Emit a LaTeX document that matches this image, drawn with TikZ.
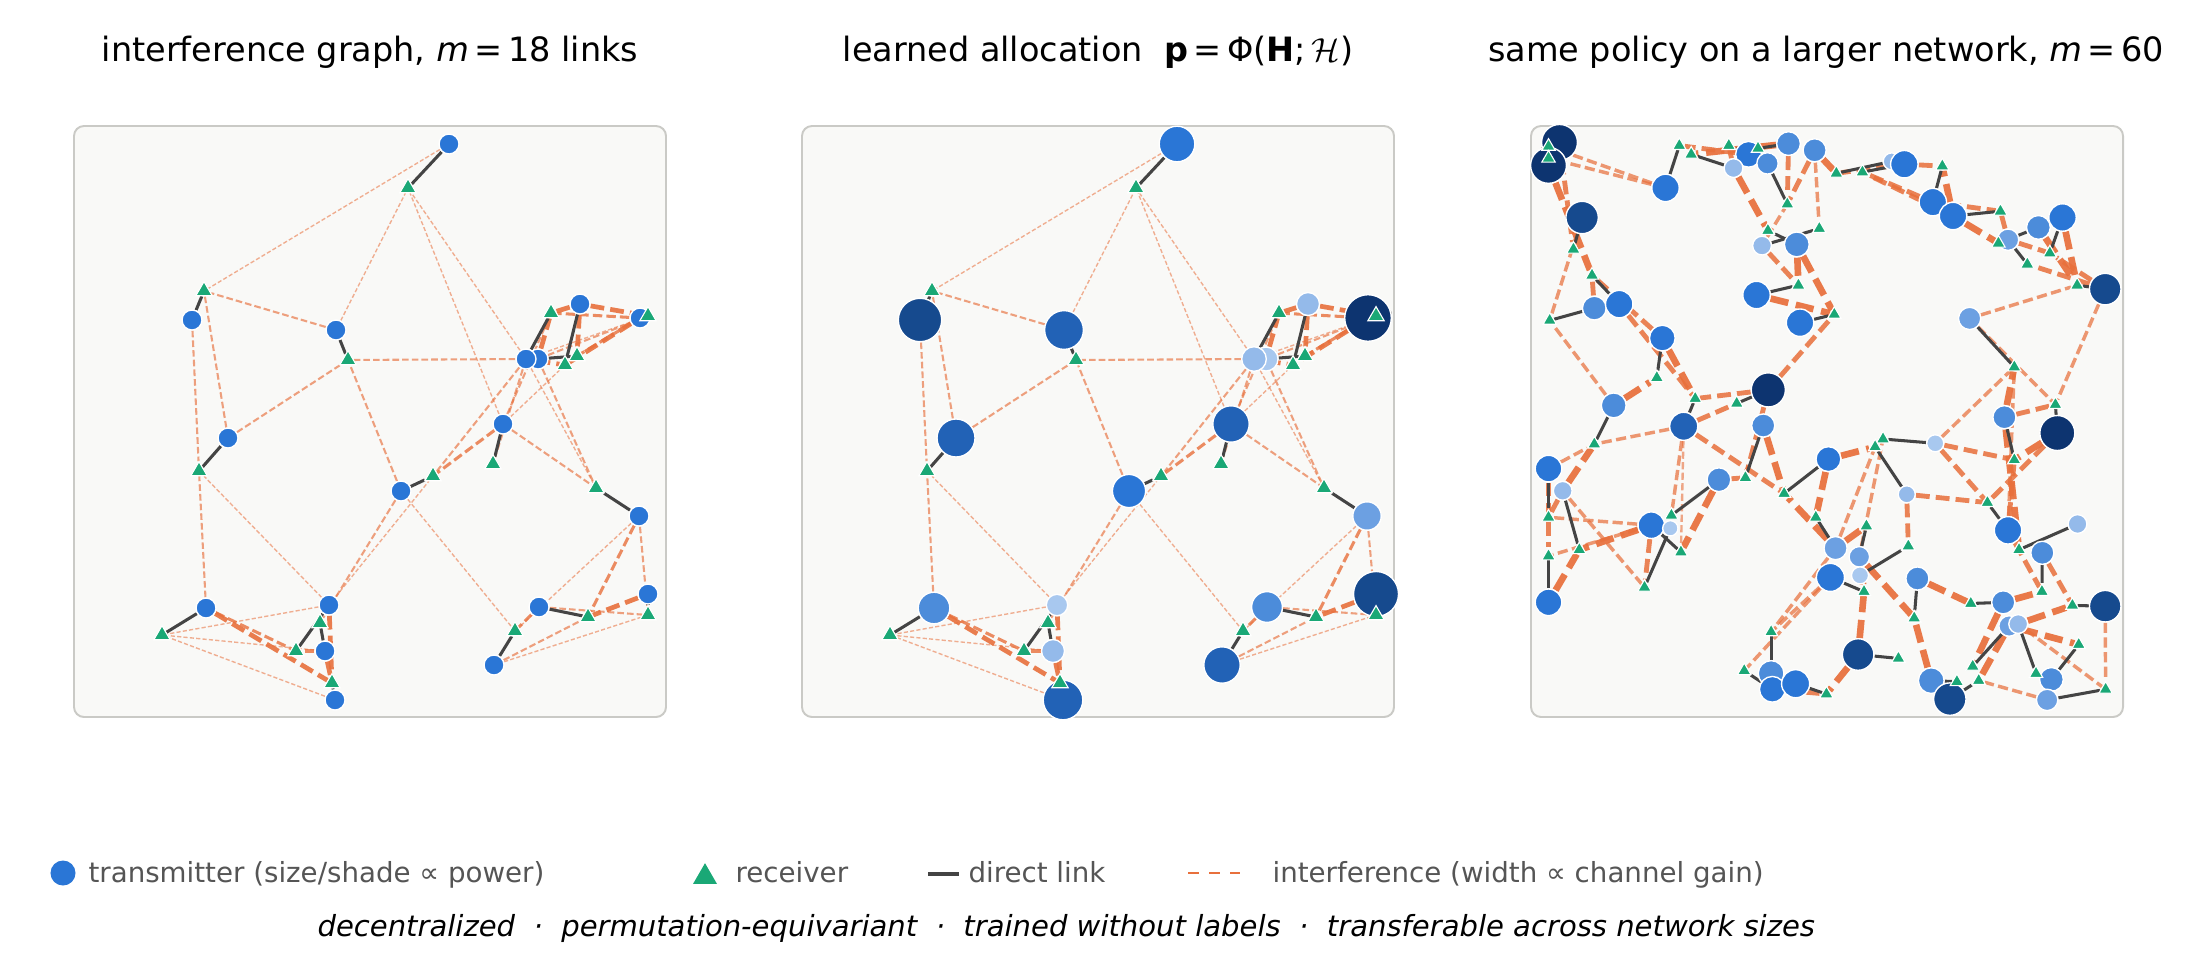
\documentclass[tikz,border=0pt]{standalone}
\usepackage{fontspec}
\setmainfont{DejaVu Sans}
\usetikzlibrary{shapes.geometric, positioning}

\definecolor{ifcol}{RGB}{232,112,60}
\definecolor{lkgray}{RGB}{68,68,68}
\definecolor{rxgreen}{RGB}{26,168,118}
\definecolor{panelbg}{RGB}{249,249,247}
\definecolor{panelrule}{RGB}{202,202,198}
\definecolor{legtext}{RGB}{85,85,85}
\definecolor{blu1}{RGB}{168,200,239}
\definecolor{blu2}{RGB}{148,186,234}
\definecolor{blu3}{RGB}{108,160,226}
\definecolor{blu4}{RGB}{76,140,218}
\definecolor{blu5}{RGB}{42,118,214}
\definecolor{blu6}{RGB}{34,98,182}
\definecolor{blu7}{RGB}{22,74,142}
\definecolor{blu8}{RGB}{13,52,112}

\pgfdeclarelayer{panel}
\pgfdeclarelayer{wires}
\pgfsetlayers{panel,wires,main}

\tikzset{
  tx/.style 2 args={circle, draw=white, line width=.5pt, inner sep=0pt,
    minimum size=#1*0.7227pt, fill=#2},
  rx/.style={regular polygon, regular polygon sides=3, draw=white,
    line width=.4pt, inner sep=0pt, fill=rxgreen, minimum size=#1},
  rx/.default=6.8pt,
  direct/.style={draw=lkgray, line width=1.1pt},
  panelbox/.style={draw=panelrule, fill=panelbg, line width=.7pt, rounded corners=3.6pt},
  iwa/.style={draw=ifcol, draw opacity=.55, line width=.5pt, dash pattern=on 1.5pt off .8pt},
  iwb/.style={draw=ifcol, draw opacity=.65, line width=.75pt, dash pattern=on 2.4pt off 1.1pt},
  iwc/.style={draw=ifcol, draw opacity=.8, line width=1.1pt, dash pattern=on 3.4pt off 1.5pt},
  iwd/.style={draw=ifcol, draw opacity=.9, line width=1.7pt, dash pattern=on 5pt off 2.2pt},
  ttl/.style={font=\fontsize{12.1}{14}\selectfont, anchor=base},
  lgd/.style={font=\fontsize{10}{12}\selectfont, text=legtext, anchor=base west, inner sep=0pt},
}

% the 18-link network (panels 1 and 2)
\newcommand\smalltx{1/375/18, 2/118/194, 3/262/204, 4/154/312, 5b/464/233, 5/452/233,
  6/506/178, 7/566/192, 8/429/298, 9/327/365, 10/565/390, 11/574/468, 12/465/481,
  13/420/539, 14/132/482, 15/255/479, 16/251/525, 17/261/574}
\newcommand\smallrx{1/334/62, 2/130/165, 3/274/234, 4/125/345, 5/477/187, 6/491/239,
  7/503/230, 8/574/190, 9/419/338, 10/359/350, 11/522/362, 12/574/489, 13/514/491,
  14/441/505, 15/88/509, 16/246/497, 17/222/525, 18/258/557}
\newcommand\smallpairs{t1/r1, t2/r2, t3/r3, t4/r4, t5/r5, t5b/r7, t6/r6, t7/r8, t8/r9,
  t9/r10, t10/r11, t11/r12, t12/r13, t13/r14, t14/r15, t15/r17, t16/r16, t17/r18}
\newcommand\smallif{t1/r2/iwa, t3/r1/iwa, t8/r1/iwa, t5/r1/iwa, t5/r11/iwa, t15/r4/iwa,
  t9/r14/iwa, t15/r10/iwa, t10/r14/iwa, t13/r12/iwa, t15/r15/iwa, t16/r15/iwa, t17/r15/iwa,
  t5/r8/iwa, t8/r6/iwa,
  t3/r2/iwb, t4/r2/iwb, t2/r4/iwb, t5/r3/iwb, t4/r3/iwb, t9/r3/iwb, t5/r10/iwb, t5/r9/iwb,
  t8/r11/iwb, t5b/r11/iwb, t14/r4/iwb, t9/r16/iwb, t10/r12/iwb, t13/r13/iwb, t12/r12/iwb,
  t5b/r8/iwb, t8/r5/iwb,
  t8/r10/iwc, t10/r13/iwc, t12/r14/iwc, t14/r17/iwc, t16/r17/iwc, t7/r5/iwc, t7/r7/iwc,
  t11/r13/iwd, t14/r18/iwd, t16/r18/iwd, t15/r18/iwd, t6/r5/iwd, t7/r6/iwd, t6/r8/iwd,
  t5/r6/iwd, t5b/r5/iwd, t6/r7/iwd}
\newcommand\smallwires[1]{%
  \begin{pgfonlayer}{wires}
    \foreach \s/\e/\w in \smallif \draw[\w] (#1-\s) -- (#1-\e);
    \foreach \s/\e in \smallpairs \draw[direct] (#1-\s) -- (#1-\e);
  \end{pgfonlayer}}

% the 60-link network (panel 3)
\newcommand\bigtx{1/28.5/16.4/16.6/8, 2/17.5/39.4/16.6/8, 3/51.1/91.5/15/7,
  4/134.5/61.9/12.7/5, 5/217.5/28.3/11.9/5, 6/202.5/42.1/8.7/2, 7/236.5/37.4/9.9/4,
  8/257.5/17.6/11/4, 9/283.6/24.3/10.7/4, 10/360.7/35.4/7.9/2, 11/373.3/38.2/12.7/5,
  12/401.8/76.1/12.7/5, 13/422/90/12.7/5, 14/477/113.7/9.9/3, 15/507.4/101.4/11/4,
  16/531.5/91.5/12.7/5, 17/574.2/163.1/14.6/7, 18/231/119.6/8.7/2, 19/265.8/118.4/11.5/4,
  20/225.5/169/12.7/5, 21/269/196.7/12.7/5, 22/63.3/182.1/11/4, 23/88.2/178.1/12.7/5,
  24/131.3/212.1/11.9/5, 25/438.6/192.4/10.3/3, 26/237.3/263.9/15.8/8, 27/82.7/279.4/11.5/4,
  28/152.7/300.3/13/6, 29/232.2/299.5/10.7/4, 30/473.4/291.2/10.7/4, 31/526.3/307/16.2/8,
  32/17.5/342.6/12.3/5, 33/31.7/364.8/8.7/2, 34/187.9/353.7/11/4, 35/297.4/333.1/11.5/5,
  36/404.2/317.3/7.9/1, 37/375.7/368.3/7.9/2, 38/120.3/399.2/12.3/5, 39/139.3/402.3/7.1/1,
  40/477/404.3/12.7/5, 41/546.5/398/8.7/2, 42/511.3/426.8/10.7/4, 43/304.5/422.1/10.7/3,
  44/328.3/430.8/9.5/3, 45/329/449.4/7.9/1, 46/299.4/451.4/13/5, 47/386.4/452.5/10.7/4,
  48/17.5/476.3/12.3/5, 49/574.2/480.2/14.6/7, 50/472.2/476.3/10.7/4, 51/478.1/500/9.5/3,
  52/487.2/498/8.7/2, 53/327.1/528.5/14.6/7, 54/240.1/547.5/11.9/4, 55/241.3/563.3/11.9/5,
  56/264.6/557.7/13/5, 57/400.2/554.6/11.9/4, 58/418.8/573.1/15/7, 59/520.4/553.4/11/4,
  60/516.1/573.9/9.9/3}
\newcommand\bigrx{1/17.5/20.4, 2/17.5/32.2, 3/42.4/123.2, 4/148.3/19.6, 5/197.8/19.6,
  6/160.2/28.3, 7/256.3/78.1, 8/227/22.4, 10/305.3/47.3, 11/331.4/46.1, 12/411.3/40.1,
  13/469.4/85.2, 14/496.3/138.2, 15/467.4/117.2, 16/518.8/127.1, 17/546.1/159.2,
  18/288.3/102.6, 19/236.9/104.6, 20/267.4/159.2, 21/303.3/188.4, 22/18.7/194.4,
  23/61/149.3, 24/125.8/251.7, 25/483.3/241, 26/205.7/277.4, 27/63.3/318.1,
  28/164.2/272.6, 29/214.4/351.7, 30/483.3/333.9, 31/524.4/278.6, 32/17.5/391.3,
  33/48.3/423.7, 34/140.4/389.3, 35/253.1/367.5, 36/352/313, 37/344.1/320.9,
  38/149.9/426.1, 39/113.5/461.3, 40/456.4/376.6, 41/488/423.7, 42/510.9/465.6,
  43/284.8/391.3, 44/335.4/400, 45/377.3/420.1, 46/333/465.6, 47/383.2/492.1,
  48/17.5/430, 49/541.4/479.4, 50/439.8/477.5, 51/441.7/540.3, 52/505/547.5,
  53/367.4/532.4, 54/240.1/505.9, 55/213.2/544.7, 56/295.4/568, 57/425.9/555.7,
  58/447.7/554.6, 59/547.7/518.6, 60/574.6/563.3}
\newcommand\bigif{t4/r1/iwb, t4/r2/iwb, t1/r3/iwc, t2/r23/iwd, t3/r22/iwb, t22/r23/iwc,
  t27/r22/iwb, t23/r28/iwc, t27/r24/iwd, t24/r28/iwd, t26/r28/iwc, t28/r26/iwc, t26/r29/iwc,
  t28/r27/iwb, t32/r27/iwb, t33/r27/iwd, t28/r34/iwb, t28/r38/iwa, t28/r35/iwc, t29/r35/iwd,
  t34/r38/iwd, t33/r32/iwc, t32/r48/iwc, t38/r33/iwd, t33/r39/iwb, t38/r32/iwb, t38/r48/iwb,
  t48/r33/iwd, t38/r39/iwc, t35/r43/iwd, t35/r37/iwd, t44/r36/iwb, t43/r37/iwb, t36/r25/iwb,
  t36/r30/iwc, t36/r40/iwc, t37/r40/iwc, t37/r45/iwc, t30/r25/iwd, t30/r31/iwc, t31/r30/iwd,
  t31/r40/iwc, t30/r41/iwd, t17/r31/iwb, t25/r17/iwb, t25/r31/iwb, t40/r25/iwb, t5/r4/iwc,
  t8/r6/iwd, t6/r5/iwc, t6/r19/iwd, t9/r7/iwc, t9/r18/iwb, t9/r10/iwd, t11/r10/iwc, t11/r12/iwc,
  t13/r11/iwc, t13/r12/iwd, t13/r15/iwd, t12/r13/iwc, t14/r13/iwc, t16/r17/iwd, t15/r17/iwd,
  t14/r16/iwc, t17/r16/iwc, t17/r14/iwc, t19/r20/iwd, t18/r20/iwc, t19/r21/iwd, t20/r21/iwd,
  t26/r21/iwc, t18/r7/iwb, t8/r7/iwc, t43/r44/iwd, t44/r46/iwd, t43/r54/iwb, t46/r54/iwb,
  t46/r55/iwb, t53/r46/iwd, t44/r47/iwd, t47/r50/iwd, t57/r47/iwd, t53/r56/iwd, t55/r56/iwc,
  t52/r49/iwd, t51/r59/iwd, t49/r60/iwb, t52/r60/iwb, t60/r58/iwb, t51/r58/iwd, t50/r51/iwd,
  t40/r42/iwc, t42/r49/iwc, t50/r42/iwd, t40/r30/iwc, t24/r23/iwc, t12/r11/iwc, t34/r29/iwc,
  t43/r35/iwd}

\begin{document}
\begin{tikzpicture}[x=0.0127cm, y=-0.0127cm]
\useasboundingbox (0,0) rectangle (2200,975);

% titles
\node[ttl] (ttl1) at (370,61) {interference graph, \textit{m}\,=\,18 links};
\node[ttl] (ttl2) at (1098,61) {learned allocation\hspace{.64em}\textbf{p}\,=\,Φ(\textbf{H};\,$\mathcal{H}$)};
\node[ttl] (ttl3) at (1826,61) {same policy on a larger network, \textit{m}\,=\,60};

% panel 1: the graph
\begin{scope}[shift={(74,126)}]
  \begin{pgfonlayer}{panel}
    \path[panelbox] (0,0) rectangle (592,591);
  \end{pgfonlayer}
  \foreach \n/\x/\y in \smalltx \node[tx={10}{blu5}] (a-t\n) at (\x,\y) {};
  \foreach \n/\x/\y in \smallrx \node[rx] (a-r\n) at (\x,\y) {};
  \smallwires{a}
\end{scope}

% panel 2: same graph, powers from the policy
\begin{scope}[shift={(802,126)}]
  \begin{pgfonlayer}{panel}
    \path[panelbox] (0,0) rectangle (592,591);
  \end{pgfonlayer}
  \foreach \n/\x/\y/\r/\c in {1/375/18/17.8/5, 2/118/194/21.7/7, 3/262/204/19.4/6,
      4/154/312/19/6, 5b/464/233/12/1, 5/452/233/12.3/2, 6/506/178/11.5/2,
      7/566/192/23.3/8, 8/429/298/18.2/6, 9/327/365/16.6/5, 10/565/390/14.2/3,
      11/574/468/22.5/7, 12/465/481/15.4/4, 13/420/539/18.2/6, 14/132/482/15.8/4,
      15/255/479/10.7/1, 16/251/525/11.5/2, 17/261/574/19.8/6}
    \node[tx={\r}{blu\c}] (b-t\n) at (\x,\y) {};
  \foreach \n/\x/\y in \smallrx \node[rx] (b-r\n) at (\x,\y) {};
  \smallwires{b}
\end{scope}

% panel 3: m = 60
\begin{scope}[shift={(1531,126)},
    iwa/.style={draw=ifcol, draw opacity=.6, line width=.85pt, dash pattern=on 2.6pt off 1.2pt},
    iwb/.style={draw=ifcol, draw opacity=.72, line width=1.25pt, dash pattern=on 3.7pt off 1.6pt},
    iwc/.style={draw=ifcol, draw opacity=.86, line width=1.75pt, dash pattern=on 5pt off 2.2pt},
    iwd/.style={draw=ifcol, draw opacity=.93, line width=2.4pt, dash pattern=on 6.6pt off 2.8pt}]
  \begin{pgfonlayer}{panel}
    \path[panelbox] (0,0) rectangle (592,591);
  \end{pgfonlayer}
  \foreach \n/\x/\y/\r/\c in \bigtx \node[tx={1.08*\r}{blu\c}] (c-t\n) at (\x,\y) {};
  \foreach \n/\x/\y in \bigrx \node[rx=5.6pt] (c-r\n) at (\x,\y) {};
  \begin{pgfonlayer}{wires}
    \foreach \s/\e/\w in \bigif \draw[\w] (c-\s) -- (c-\e);
    \foreach \n in {1,2,3,...,8,10,11,...,60} \draw[direct] (c-t\n) -- (c-r\n);
  \end{pgfonlayer}
\end{scope}

% legend
\node[tx={12.5}{blu5}, draw=none] (lgtx) at (63,873) {};
\node[lgd] (lgtxt) at (88,882) {transmitter (size/shade ∝ power)};
\node[rx=10pt, draw=none] (lgrx) at (705,877) {};
\node[lgd] (lgrxt) at (735,882) {receiver};
\coordinate (lgd1) at (928,874);
\coordinate (lgd2) at (959,874);
\draw[direct] (lgd1) -- (lgd2);
\node[lgd] (lgdt) at (968,882) {direct link};
\coordinate (lgi1) at (1188,873);
\coordinate (lgi2) at (1240,873);
\draw[ifcol, line width=.9pt, dash pattern=on 3.8pt off 3.8pt] (lgi1) -- (lgi2);
\node[lgd] (lgit) at (1272,882) {interference (width ∝ channel gain)};

\node[anchor=base west, inner sep=0pt, font=\fontsize{10.5}{12}\selectfont\itshape] (motto) at (317,936)
  {decentralized\ \ ·\ \ permutation-equivariant\ \ ·\ \ trained without labels\ \ ·\ \ transferable across network sizes};
\end{tikzpicture}
\end{document}
